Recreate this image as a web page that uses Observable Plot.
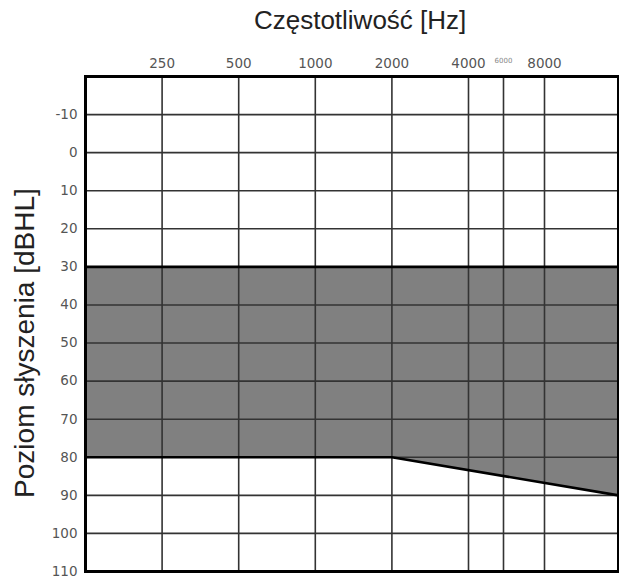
<!DOCTYPE html>
<html>
<head>
<meta charset="utf-8">
<script src="https://cdn.jsdelivr.net/npm/d3@7"></script>
<script src="https://cdn.jsdelivr.net/npm/@observablehq/plot@0.6"></script>
<style>
  html, body { margin: 0; padding: 0; background: #fff; }
  svg { display: block; overflow: visible; }
</style>
</head>
<body>
<div id="chart"></div>
<script>
// Frequencies (Hz) with grid lines / labels
const freqTicks = [250, 500, 1000, 2000, 4000, 6000, 8000];
const freqLabels = ["250", "500", "1000", "2000", "4000", "6000", "8000"];
// Hearing level ticks (dBHL)
const dbTicks = [-10, 0, 10, 20, 30, 40, 50, 60, 70, 80, 90, 100, 110];
// Shaded band: upper edge and lower edge
const bandTop = 30;
const bandFreq = [125, 2000, 16000];
const bandLow = [80, 80, 90];

const band = bandFreq.map((f, i) => ({f, db: bandLow[i]}));
const labelsMain = freqTicks.map((f, i) => ({f, t: freqLabels[i]})).filter(d => d.f !== 6000);
const labelsSmall = freqTicks.map((f, i) => ({f, t: freqLabels[i]})).filter(d => d.f === 6000);

const chart = Plot.plot({
  width: 619,
  height: 578,
  marginTop: 76,
  marginBottom: 7,
  marginLeft: 85,
  marginRight: 1,
  x: {type: "log", domain: [125, 4000, 6000, 8000, 16000], range: [85, 468, 503, 544, 618], axis: null, label: null},
  y: {domain: [-20, 110], reverse: true, axis: null, label: null},
  marks: [
    Plot.areaY(band, {x: "f", y1: bandTop, y2: "db", fill: "#808080"}),
    Plot.ruleY(dbTicks.filter(d => d < 110), {stroke: "#333", strokeWidth: 1.6}),
    Plot.ruleX(freqTicks, {stroke: "#333", strokeWidth: 1.6}),
    Plot.ruleY([bandTop], {stroke: "#000", strokeWidth: 2.6}),
    Plot.line(band, {x: "f", y: "db", stroke: "#000", strokeWidth: 2.6}),
    Plot.frame({stroke: "#000", strokeWidth: 3}),
    Plot.axisY({ticks: dbTicks, tickSize: 0, tickPadding: 8, fontSize: 13.5, color: "#555", fontFamily: "DejaVu Sans", label: null, tickFormat: d => String(d)}),
    Plot.text(labelsMain, {x: "f", text: "t", frameAnchor: "top", lineAnchor: "middle", dy: -13, fontSize: 13.5, fill: "#555", fontFamily: "DejaVu Sans"}),
    Plot.text(labelsSmall, {x: "f", text: "t", frameAnchor: "top", lineAnchor: "middle", dy: -16, fontSize: 7, fill: "#888", fontFamily: "DejaVu Sans"}),
    Plot.text(["Częstotliwość [Hz]"], {x: [1500], text: d => d, frameAnchor: "top", lineAnchor: "middle", dy: -56, fontSize: 26, fill: "#222", fontFamily: "Liberation Sans"}),
    Plot.text(["Poziom słyszenia [dBHL]"], {y: [50], text: d => d, frameAnchor: "left", lineAnchor: "middle", dx: -60, rotate: -90, textAnchor: "middle", fontSize: 28, fill: "#222", fontFamily: "Liberation Sans"})
  ]
});
document.getElementById("chart").appendChild(chart);
</script>
</body>
</html>
